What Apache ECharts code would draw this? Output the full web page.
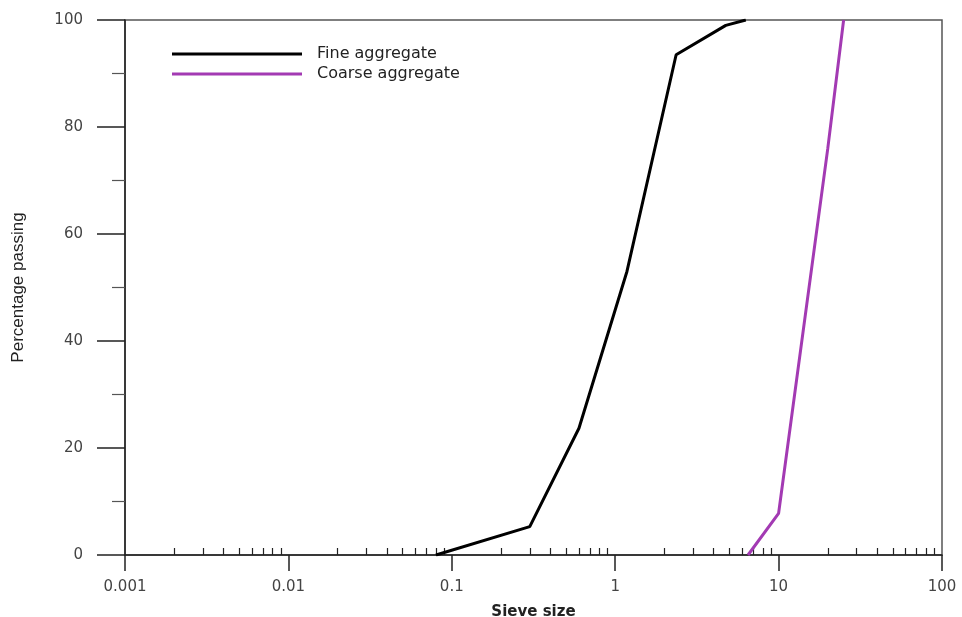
<html>
<head>
<meta charset="utf-8">
<script src="https://cdn.jsdelivr.net/npm/echarts@6/dist/echarts.min.js"></script>
<style>
    body { margin: 0; padding: 0; background: #fff; }
    #content { width: 962px; height: 617px; }
</style>
</head>
<body>
<div id="content"></div>
<script type="text/javascript">
    // sieve sizes (mm) and percentage passing
    var fineSize = [0.08, 0.3, 0.6, 1.18, 2.36, 4.75, 6.3];
    var finePass = [0, 5.3, 23.7, 53, 93.5, 99, 100];
    var coarseSize = [6.5, 10, 20, 25];
    var coarsePass = [0, 7.8, 76, 100];

    var xMajorTicks = [0.001, 0.01, 0.1, 1, 10, 100];
    var xMinorTicks = [];
    for (var d = 0; d < xMajorTicks.length - 1; d++) {
        for (var m = 2; m <= 9; m++) {
            xMinorTicks.push(m * xMajorTicks[d]);
        }
    }

    function pairs(xs, ys) {
        var out = [];
        for (var i = 0; i < xs.length; i++) out.push([xs[i], ys[i]]);
        return out;
    }

    var chart = echarts.init(document.getElementById('content'));
    var labelFont = { color: '#444', fontFamily: 'DejaVu Sans', fontSize: 15 };

    var option = {
        animation: false,
        grid: {
            left: 125, right: 20, top: 20, bottom: 62,
            outerBoundsMode: 'none',
            containLabel: false,
            show: true, borderColor: '#555', borderWidth: 1.5
        },
        legend: {
            orient: 'vertical',
            left: 167,
            top: 41,
            icon: 'rect',
            itemWidth: 130,
            itemHeight: 3,
            itemGap: 4,
            textStyle: { color: '#222', fontFamily: 'DejaVu Sans', fontSize: 16, padding: [0, 0, 0, 10] },
            data: ['Fine aggregate', 'Coarse aggregate']
        },
        xAxis: [{
            type: 'log',
            logBase: 10,
            min: 0.001,
            max: 100,
            name: 'Sieve size',
            nameLocation: 'middle',
            nameGap: 50,
            nameTextStyle: { color: '#222', fontFamily: 'DejaVu Sans', fontSize: 15, fontWeight: 'bold' },
            axisLine: { onZero: false, lineStyle: { color: '#222', width: 1.5 } },
            axisTick: { inside: false, length: 16, lineStyle: { color: '#222', width: 1.5 } },
            axisLabel: Object.assign({
                margin: 25,
                formatter: function (v) { return String(Number(v.toPrecision(3))); }
            }, labelFont),
            splitLine: { show: false }
        }, {
            // minor ticks at 2..9 of each decade, drawn inside
            type: 'value',
            min: -3,
            max: 2,
            position: 'bottom',
            axisLine: { show: false, onZero: false },
            axisLabel: { show: false },
            splitLine: { show: false },
            axisTick: {
                inside: true,
                length: 7,
                customValues: xMinorTicks.map(function (v) { return Math.log10(v); }),
                lineStyle: { color: '#222', width: 1.2 }
            }
        }],
        yAxis: {
            type: 'value',
            min: 0,
            max: 100,
            interval: 20,
            name: 'Percentage passing',
            nameLocation: 'middle',
            nameGap: 98,
            nameRotate: 90,
            nameTextStyle: { color: '#222', fontFamily: 'Liberation Sans', fontSize: 17 },
            axisLine: { show: true, onZero: false, lineStyle: { color: '#222', width: 1.5 } },
            axisTick: { show: true, inside: false, length: 28, lineStyle: { color: '#222', width: 1.5 } },
            minorTick: { show: true, splitNumber: 2, length: 13, lineStyle: { color: '#555', width: 1.2 } },
            axisLabel: Object.assign({ margin: 42 }, labelFont),
            splitLine: { show: false }
        },
        series: [{
            name: 'Fine aggregate',
            type: 'line',
            xAxisIndex: 0,
            symbol: 'none',
            lineStyle: { color: '#000', width: 3 },
            itemStyle: { color: '#000' },
            data: pairs(fineSize, finePass)
        }, {
            name: 'Coarse aggregate',
            type: 'line',
            xAxisIndex: 0,
            symbol: 'none',
            lineStyle: { color: '#a33ab3', width: 3 },
            itemStyle: { color: '#a33ab3' },
            data: pairs(coarseSize, coarsePass)
        }]
    };
    chart.setOption(option);
</script>
</body>
</html>
